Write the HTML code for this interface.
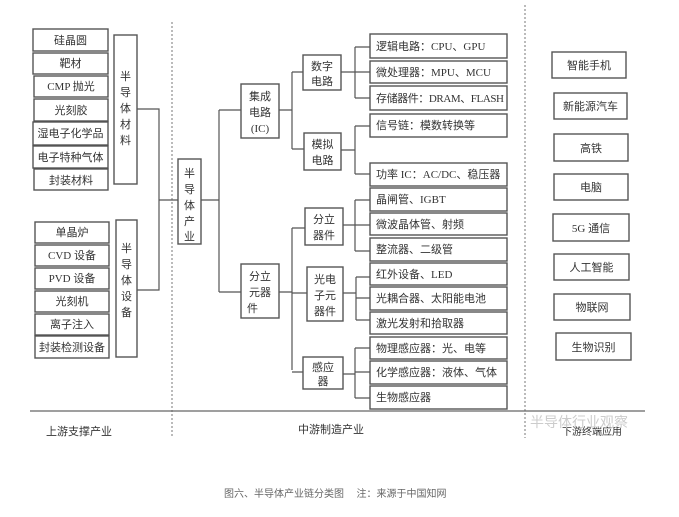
<!DOCTYPE html>
<html><head><meta charset="utf-8"><style>
html,body{margin:0;padding:0;background:#fff;width:679px;height:517px;overflow:hidden}
svg{display:block}
text{font-family:"Liberation Serif","Noto Sans CJK SC",serif;fill:#333;font-size:11px}
.b{fill:#fff;stroke:#555;stroke-width:1.4}
.l{stroke:#555;stroke-width:1.2;fill:none}
.c{text-anchor:middle}
</style></head><body>
<svg width="679" height="517" viewBox="0 0 679 517">
<line x1="172" y1="22" x2="172" y2="438" stroke="#777" stroke-width="1" stroke-dasharray="2,2"/>
<line x1="525" y1="5" x2="525" y2="438" stroke="#777" stroke-width="1" stroke-dasharray="2,2"/>
<line x1="30" y1="411" x2="645" y2="411" stroke="#666" stroke-width="1.3"/>

<g>
<rect class="b" x="33" y="29" width="75" height="22"/><text class="c" x="70.5" y="44">硅晶圆</text>
<rect class="b" x="33" y="53" width="75" height="21"/><text class="c" x="70.5" y="67">靶材</text>
<rect class="b" x="34" y="76" width="74" height="21"/><text class="c" x="71" y="90">CMP 抛光</text>
<rect class="b" x="34" y="99" width="74" height="22"/><text class="c" x="71" y="114">光刻胶</text>
<rect class="b" x="33" y="122" width="75" height="23"/><text class="c" x="70.5" y="137">湿电子化学品</text>
<rect class="b" x="33" y="146" width="75" height="22"/><text class="c" x="70.5" y="161">电子特种气体</text>
<rect class="b" x="34" y="169" width="74" height="21"/><text class="c" x="71" y="184">封装材料</text>
<rect class="b" x="114" y="35" width="23" height="149"/>
<text class="c" x="125.5" y="80">半</text><text class="c" x="125.5" y="96">导</text><text class="c" x="125.5" y="112">体</text><text class="c" x="125.5" y="128">材</text><text class="c" x="125.5" y="144">料</text>
</g>
<g>
<rect class="b" x="35" y="222" width="74" height="21"/><text class="c" x="72" y="236">单晶炉</text>
<rect class="b" x="35" y="245" width="74" height="21"/><text class="c" x="72" y="259">CVD 设备</text>
<rect class="b" x="35" y="268" width="74" height="21"/><text class="c" x="72" y="282">PVD 设备</text>
<rect class="b" x="35" y="291" width="74" height="21"/><text class="c" x="72" y="305">光刻机</text>
<rect class="b" x="35" y="314" width="74" height="21"/><text class="c" x="72" y="328">离子注入</text>
<rect class="b" x="35" y="336" width="74" height="22"/><text class="c" x="72" y="351">封装检测设备</text>
<rect class="b" x="116" y="220" width="21" height="137"/>
<text class="c" x="126.5" y="252">半</text><text class="c" x="126.5" y="268">导</text><text class="c" x="126.5" y="284">体</text><text class="c" x="126.5" y="300">设</text><text class="c" x="126.5" y="316">备</text>
</g>
<path class="l" d="M137 109H159V290H137M159 200H178"/>
<rect class="b" x="178" y="159" width="23" height="85"/>
<text class="c" x="189.5" y="177">半</text><text class="c" x="189.5" y="193">导</text><text class="c" x="189.5" y="209">体</text><text class="c" x="189.5" y="225">产</text><text class="c" x="189.5" y="240">业</text>
<path class="l" d="M201 200H219M219 110V292M219 110H241M219 292H241"/>

<rect class="b" x="241" y="84" width="38" height="54"/>
<text class="c" x="260" y="100">集成</text><text class="c" x="260" y="116">电路</text><text class="c" x="260" y="132">(IC)</text>
<rect class="b" x="241" y="264" width="38" height="54"/>
<text class="c" x="260" y="280">分立</text><text class="c" x="260" y="296">元器</text><text x="247" y="312">件</text>

<path class="l" d="M279 110H292M292 72V149M292 72H303M292 149H304"/>
<path class="l" d="M279 292H292M292 228V370M292 228H305M292 293H307M292 372H303"/>

<rect class="b" x="303" y="55" width="38" height="35"/><text class="c" x="322" y="70">数字</text><text class="c" x="322" y="85">电路</text>
<rect class="b" x="304" y="133" width="37" height="37"/><text class="c" x="322.5" y="148">模拟</text><text class="c" x="322.5" y="164">电路</text>
<rect class="b" x="305" y="208" width="38" height="37"/><text class="c" x="324" y="223">分立</text><text class="c" x="324" y="239">器件</text>
<rect class="b" x="307" y="267" width="36" height="54"/><text class="c" x="325" y="283">光电</text><text class="c" x="325" y="299">子元</text><text class="c" x="325" y="315">器件</text>
<rect class="b" x="303" y="357" width="40" height="32"/><text class="c" x="323" y="371">感应</text><text class="c" x="323" y="385">器</text>

<path class="l" d="M341 72H355M355 47V98M355 47H370M355 72H370M355 98H370"/>
<path class="l" d="M341 150H355M355 126V174M355 126H370M355 174H370"/>
<path class="l" d="M343 225H355M355 200V251M355 200H370M355 225H370M355 251H370"/>
<path class="l" d="M343 293H356M356 277V320M356 277H370M356 298H370M356 320H370"/>
<path class="l" d="M343 374H355M355 348V398M355 348H370M355 372H370M355 398H370"/>

<g>
<rect class="b" x="370" y="34" width="137" height="24"/><text x="376" y="50">逻辑电路：CPU、GPU</text>
<rect class="b" x="370" y="61" width="137" height="22"/><text x="376" y="76">微处理器：MPU、MCU</text>
<rect class="b" x="370" y="86" width="137" height="24"/><text x="376" y="102" textLength="128">存储器件：DRAM、FLASH</text>
<rect class="b" x="370" y="114" width="137" height="23"/><text x="376" y="129">信号链：模数转换等</text>
<rect class="b" x="370" y="163" width="137" height="23"/><text x="376" y="178">功率 IC：AC/DC、稳压器</text>
<rect class="b" x="370" y="188" width="137" height="23"/><text x="376" y="203">晶闸管、IGBT</text>
<rect class="b" x="370" y="213" width="137" height="22"/><text x="376" y="228">微波晶体管、射频</text>
<rect class="b" x="370" y="238" width="137" height="23"/><text x="376" y="253">整流器、二级管</text>
<rect class="b" x="370" y="263" width="137" height="22"/><text x="376" y="278">红外设备、LED</text>
<rect class="b" x="370" y="287" width="137" height="23"/><text x="376" y="302">光耦合器、太阳能电池</text>
<rect class="b" x="370" y="312" width="137" height="22"/><text x="376" y="327">激光发射和拾取器</text>
<rect class="b" x="370" y="337" width="137" height="22"/><text x="376" y="352">物理感应器：光、电等</text>
<rect class="b" x="370" y="361" width="137" height="23"/><text x="376" y="376">化学感应器：液体、气体</text>
<rect class="b" x="370" y="386" width="137" height="23"/><text x="376" y="401">生物感应器</text>
</g>

<g>
<rect class="b" x="552" y="52" width="74" height="26"/><text class="c" x="589" y="69">智能手机</text>
<rect class="b" x="554" y="93" width="73" height="26"/><text class="c" x="590.5" y="110">新能源汽车</text>
<rect class="b" x="554" y="134" width="74" height="27"/><text class="c" x="591" y="152">高铁</text>
<rect class="b" x="554" y="174" width="74" height="26"/><text class="c" x="591" y="191">电脑</text>
<rect class="b" x="553" y="214" width="76" height="27"/><text class="c" x="591" y="232">5G 通信</text>
<rect class="b" x="554" y="254" width="75" height="26"/><text class="c" x="591.5" y="271">人工智能</text>
<rect class="b" x="554" y="294" width="76" height="26"/><text class="c" x="592" y="311">物联网</text>
<rect class="b" x="556" y="333" width="75" height="27"/><text class="c" x="593.5" y="351">生物识别</text>
</g>

<text x="46" y="435">上游支撑产业</text>
<text x="298" y="433">中游制造产业</text>
<text x="562" y="435" style="font-size:10px">下游终端应用</text>
<text x="530" y="427" style="font-size:14px;fill:#ccc">半导体行业观察</text>
<text x="224" y="497" style="font-size:10px;fill:#666">图六、半导体产业链分类图　 注：来源于中国知网</text>
</svg>
</body></html>
